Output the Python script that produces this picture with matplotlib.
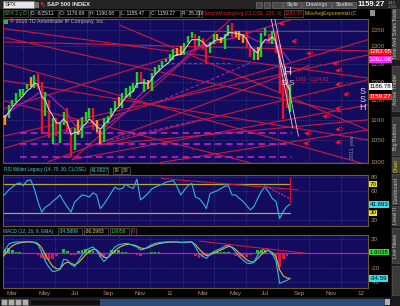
import matplotlib
matplotlib.use("Agg")
import matplotlib.pyplot as plt
from matplotlib.patches import Rectangle
from matplotlib.transforms import blended_transform_factory
from matplotlib.ticker import NullLocator, FixedLocator, FixedFormatter
import pandas as pd

plt.rcParams["font.family"] = ["Liberation Sans", "DejaVu Sans"]

W, H = 400, 306

# weekly SPX bars, Feb 2010 - Aug 2011
week_end = list(pd.date_range("2010-02-19", "2011-08-19", freq="W-FRI")) + [pd.Timestamp("2011-08-25")]
closes = [1109, 1104, 1138, 1150, 1160, 1167, 1178, 1194, 1192, 1217, 1187, 1111, 1136, 1087, 1089,
          1065, 1092, 1117, 1076, 1022, 1078, 1065, 1102, 1102, 1122, 1079, 1071, 1065, 1104, 1110,
          1125, 1149, 1146, 1165, 1176, 1183, 1183, 1225, 1199, 1199, 1189, 1224, 1240, 1244, 1256,
          1258, 1271, 1293, 1283, 1276, 1311, 1329, 1343, 1320, 1321, 1304, 1279, 1313, 1332, 1328,
          1320, 1338, 1364, 1340, 1338, 1333, 1331, 1300, 1271, 1271, 1268, 1340, 1344, 1316, 1345,
          1292, 1199, 1179, 1124, 1159]
highs = [1112, 1112, 1139, 1151, 1170, 1181, 1181, 1194, 1214, 1217, 1220, 1200, 1173, 1150, 1104,
         1105, 1092, 1120, 1131, 1080, 1079, 1099, 1106, 1120, 1130, 1129, 1100, 1075, 1105, 1110,
         1131, 1149, 1158, 1169, 1184, 1189, 1196, 1227, 1227, 1207, 1204, 1225, 1241, 1246, 1259,
         1263, 1278, 1293, 1296, 1302, 1311, 1331, 1344, 1339, 1332, 1325, 1305, 1314, 1337, 1339,
         1328, 1338, 1364, 1370, 1346, 1346, 1334, 1346, 1301, 1292, 1298, 1341, 1356, 1339, 1347,
         1345, 1307, 1208, 1208, 1191]
lows = [1075, 1086, 1105, 1134, 1146, 1159, 1165, 1181, 1186, 1183, 1181, 1066, 1110, 1056, 1041,
        1060, 1043, 1088, 1071, 1011, 1028, 1063, 1056, 1096, 1104, 1076, 1069, 1040, 1047, 1092,
        1110, 1123, 1136, 1131, 1159, 1159, 1171, 1184, 1194, 1173, 1180, 1174, 1222, 1232, 1241,
        1254, 1257, 1262, 1271, 1275, 1276, 1310, 1324, 1294, 1302, 1291, 1249, 1280, 1306, 1322,
        1309, 1294, 1331, 1329, 1329, 1318, 1311, 1297, 1268, 1262, 1262, 1270, 1332, 1309, 1306,
        1282, 1168, 1101, 1131, 1121]
rsi = [52, 56, 62, 66, 70, 72, 68, 75, 76, 63, 45, 31, 38, 41, 46, 50, 55, 46, 38, 31,
       45, 50, 55, 54, 52, 58, 55, 36, 42, 50, 58, 66, 63, 64, 70, 66, 64, 77, 48, 52,
       57, 63, 66, 68, 70, 73, 74, 75, 66, 55, 62, 68, 71, 52, 50, 44, 36, 57, 59, 61,
       64, 67, 68, 55, 55, 50, 46, 40, 34, 39, 50, 60, 66, 59, 50, 46, 22, 32, 39, 41.69]
macd = [-6.7, 5, 13, 15, 16, 16, 16, 16.5, 16, 15, 12, 2, -11, -19, -25, -24, -22, -8, -9, -15,
        -18, -10, -2, 4, 7, 9, 4, -4.5, -11, -6, 2.7, 9, 12, 13, 14, 13, 11, 9, 4.8, 6,
        9, 12, 14, 15, 15.5, 16, 16, 16, 16, 15, 15.5, 16, 16, 9, 0, -4, -6.7, -1, 2.7, 5,
        7, 10, 12, 8, 2, -4.5, -9, -13, -14, -12, -2, 4, 7, 5, -1, -10, -41, -39, -37, -34.59]

price_ticks = [1000, 1050, 1100, 1150, 1200, 1250, 1300, 1350]
rsi_ticks = [20, 60, 80]
macd_ticks = [20, -20, -40]
month_labels = ["Mar", "May", "Jul", "Sep", "Nov", "11", "Mar", "May", "Jul", "Sep", "Nov", "12"]
month_dates = pd.date_range("2010-03-01", periods=12, freq="2MS")
grid_dates = pd.date_range("2010-04-01", periods=11, freq="2MS")

# hand drawn trend lines on the price pane: (date, price) -> (date, price)
red_lines = [
    ("2010-02-16", 1028, "2012-01-20", 1320), ("2010-02-16", 1058, "2012-01-20", 1275),
    ("2010-02-16", 1125, "2011-08-25", 1381), ("2010-07-05", 1005, "2012-01-20", 1138),
    ("2010-08-26", 1039, "2012-01-20", 1205), ("2010-08-26", 1039, "2012-01-20", 1100),
    ("2010-07-05", 1005, "2011-05-02", 1381), ("2010-12-19", 998, "2012-01-20", 1075),
    ("2010-02-16", 1356, "2012-01-20", 1210), ("2010-02-16", 1314, "2012-01-20", 1287),
    ("2010-02-16", 1205, "2012-01-20", 1051), ("2010-02-16", 1255, "2012-01-20", 993),
    ("2010-02-16", 1381, "2012-01-20", 1397), ("2010-10-03", 1365, "2012-01-20", 1075),
    ("2011-03-05", 1347, "2012-01-20", 1347), ("2010-02-16", 1151, "2011-06-09", 998),
    ("2010-05-20", 1000, "2011-10-01", 1245), ("2010-02-16", 1330, "2011-12-01", 1120),
]
light_lines = [("2011-07-20", 1384, "2011-08-30", 1080), ("2011-07-27", 1384, "2011-09-10", 1060)]
support_levels = [1068, 1042, 1011]
magenta_diag = [("2010-12-19", 1148, "2011-06-09", 1252), ("2010-08-26", 1045, "2011-03-05", 1100),
                ("2010-12-19", 1252, "2011-05-02", 1252)]
# right side markers, in pane fractions
markers = [("◀1", 0.753, 0.972), ("◀2", 0.789, 0.847), ("◀3", 0.830, 0.764), ("◀4", 0.901, 0.694),
           ("◀A", 0.910, 0.646), ("◀B", 0.910, 0.549), ("◀F", 0.932, 0.478), ("◀C", 0.910, 0.382),
           ("◀5", 0.874, 0.326), ("◀D", 0.910, 0.236), ("◀6", 0.825, 0.208), ("◀E", 0.910, 0.146),
           ("◀7", 0.822, 0.139)]

NAVY = "#130b5e"
TAN = "#a8916a"
GRID = "#5858a0"
BORDER = "#6a5a30"
RED = "#cc1840"
FS = 3.6


def px_rect(x0, y0, x1, y1):
    return [x0 / W, 1 - y1 / H, (x1 - x0) / W, (y1 - y0) / H]


def style_pane(ax, ticks, labels, ylim):
    ax.set_facecolor(NAVY)
    ax.set_xlim(pd.Timestamp("2010-02-22"), pd.Timestamp("2012-01-21"))
    ax.set_ylim(*ylim)
    ax.yaxis.tick_right()
    ax.yaxis.set_major_locator(FixedLocator(ticks))
    ax.yaxis.set_major_formatter(FixedFormatter(labels))
    ax.yaxis.set_minor_locator(NullLocator())
    ax.tick_params(axis="y", length=0, pad=2, labelsize=4.6, labelcolor=TAN)
    ax.set_xticks([])
    for s in ax.spines.values():
        s.set_color(BORDER)
        s.set_linewidth(0.8)
    for t in ticks:
        ax.axhline(t, color=GRID, lw=0.5, ls=(0, (1, 2)), zorder=0)
    for d in grid_dates:
        ax.axvline(d, color=GRID, lw=0.5, ls=(0, (1, 2)), zorder=0)


def side_box(ax, y, text, fc, tc="black"):
    tr = blended_transform_factory(ax.transAxes, ax.transData)
    ax.text(1.004, y, text, transform=tr, fontsize=4.4, color=tc, va="center", ha="left",
            bbox=dict(boxstyle="square,pad=0.12", fc=fc, ec="none"), clip_on=False, zorder=10)


def boxed(ax, x0, x1, yc, lab, c):
    ax.add_patch(Rectangle((x0, yc - 3.5), x1 - x0, 7, fc="none", ec="#6a6a6a", lw=0.4))
    ax.text(x0 + 1, yc, lab, fontsize=FS, color=c, va="center", clip_on=True)


fig = plt.figure(figsize=(4, 3.06), dpi=100)
fig.patch.set_facecolor("#000000")

# ---- window chrome ----
ui = fig.add_axes([0, 0, 1, 1])
ui.set_xlim(0, W)
ui.set_ylim(H, 0)
ui.axis("off")
ui.add_patch(Rectangle((0, 0), W, 9, fc="#242424"))
ui.add_patch(Rectangle((3, 1), 31, 7, fc="#e6e6e6", ec="#808080", lw=0.4))
ui.text(5, 4.6, "SPX", fontsize=4.2, color="#202020", va="center")
ui.add_patch(Rectangle((35, 1.5), 4, 6, fc="#707070"))
ui.add_patch(Rectangle((41, 2), 2, 2.5, fc="#d02020"))
ui.add_patch(Rectangle((43, 4.5), 2, 2.5, fc="#2040d0"))
ui.text(47, 4.6, "S&P 500 INDEX", fontsize=4.2, color="#e8e8e8", va="center", weight="bold")
for x0, w, lab in [(256, 6, ""), (264, 6, ""), (272, 10, ""), (283, 18, "Style"),
                   (302, 29, "Drawings"), (332, 24, "Studies")]:
    ui.add_patch(Rectangle((x0, 1.5), w, 6, fc="#4a4a4a", ec="#7a7a7a", lw=0.4))
    if lab:
        ui.text(x0 + 4, 4.6, lab, fontsize=3.8, color="#e0e0e0", va="center")
ui.text(358, 4.6, "1159.27", fontsize=5.5, color="white", va="center", weight="bold")
ui.text(388, 2.8, "-18.5", fontsize=2.6, color="#b0b0b0", va="center")
ui.text(388, 6.6, "-1.5%", fontsize=2.6, color="#b0b0b0", va="center")

info = [(3, 28, "SPX 2 y D", "#30d040"), (30, 58, "D: 8/25/11", "#d8d8d8"),
        (59, 88, "O: 1176.69", "#d8d8d8"), (89, 119, "H: 1190.68", "#d8d8d8"),
        (120, 149, "L: 1155.47", "#d8d8d8"), (150, 180, "C: 1159.27", "#d8d8d8"),
        (181, 198, "R: 35.21", "#d8d8d8"), (199, 202, "Y:", "#d8d8d8")]
for x0, x1, lab, c in info:
    boxed(ui, x0, x1, 13.6, lab, c)
ui.text(203, 13.6, "SimpleMovingAvg (CLOSE, 200, 0)", fontsize=FS, color="#e02030", va="center")
boxed(ui, 284, 303, 13.6, "1283.95", "#e02030")
ui.text(305, 13.6, "MovAvgExponential (C", fontsize=FS, color="#e0b030", va="center")
ui.add_patch(Rectangle((370, 10), 5, 6, fc="#909090"))

# right tabs
ui.add_patch(Rectangle((391, 9), 9, 288, fc="#1c1c1c"))
tabs = [(9, 19, "Trade"), (20, 60, "Time And Sales"), (66, 112, "Active Trader"),
        (117, 156, "Big Buttons"), (157, 173, "Chart"), (174, 205, "Dashboard"),
        (206, 226, "Level II"), (228, 264, "Live News"), (266, 296, "")]
for y0, y1, lab in tabs:
    active = lab == "Chart"
    ui.add_patch(Rectangle((391.5, y0), 8, y1 - y0 - 1, fc="#3a3a3a" if not active else "#4a4a30",
                           ec="#606060", lw=0.4))
    ui.text(395.8, (y0 + y1) / 2, lab, fontsize=3.8, rotation=90, ha="center", va="center",
            color="#e8d040" if active else "#c8c8c8")

# headers of lower panes
ui.add_patch(Rectangle((0, 164), 368, 11, fc="#050505"))
ui.text(4, 170, "RSI Wilder Legacy (14, 70, 30, CLOSE)", fontsize=3.3, color="#40c8e8", va="center")
for x0, x1, lab, c in [(90, 108, "41.6927", "#40c8e8"), (113, 121, "70", "#e0d040"),
                       (122, 130, "30", "#e0d040")]:
    boxed(ui, x0, x1, 170, lab, c)
ui.add_patch(Rectangle((0, 226), 368, 9, fc="#050505"))
ui.text(3, 231.5, "MACD (12, 26, 9, EMA)", fontsize=3.4, color="#40c8e8", va="center")
for x0, x1, lab, c in [(58, 82, "-34.5898", "#40c8e8"), (84, 108, "-36.2983", "#e0d040"),
                       (110, 129, "1.9058", "#30d040"), (131, 136, "0", "#d020d0")]:
    boxed(ui, x0, x1, 231.5, lab, c)

# bottom scroller
ui.add_patch(Rectangle((0, 297), W, 9, fc="#1a1a1a"))
for i in range(4):
    ui.add_patch(Rectangle((1 + i * 7, 298.5), 6, 6, fc="#b0b0b0", ec="#505050", lw=0.4))
ui.add_patch(Rectangle((30, 298.5), 70, 6, fc="#101010", ec="#404040", lw=0.4))
ui.add_patch(Rectangle((100, 298.5), 284, 6, fc="#2a4a78", ec="#406090", lw=0.4))
ui.add_patch(Rectangle((385, 298.5), 5, 6, fc="#b0b0b0"))

# ---- price pane ----
ax = fig.add_axes(px_rect(3, 19, 368, 163))
ax.set_yscale("log")
style_pane(ax, price_ticks, [str(t) for t in price_ticks], (997, 1384))

for d1, p1, d2, p2 in red_lines:
    ax.plot([pd.Timestamp(d1), pd.Timestamp(d2)], [p1, p2], color=RED, lw=0.8, zorder=2)
for d1, p1, d2, p2 in magenta_diag:
    ax.plot([pd.Timestamp(d1), pd.Timestamp(d2)], [p1, p2], color="#a020c0", lw=0.8,
            ls=(0, (3, 2)), zorder=2)
for lvl in support_levels:
    ax.plot([pd.Timestamp("2010-03-27"), pd.Timestamp("2011-08-29")], [lvl, lvl],
            color="#c020c8", lw=1.2, ls=(0, (4, 2.5)), zorder=2)

s = pd.Series(closes, index=week_end)
fast = s.ewm(span=4, adjust=False).mean()
slow = s.rolling(10, min_periods=1).mean()
ax.plot(slow.index, slow.values, color="#9a1eb0", lw=0.9, zorder=3)

chg = s.diff().fillna(0)
bar_cols = ["#22d022" if c >= 0 else ("#ff8c10" if c > -15 else "#e8142a") for c in chg]
ax.vlines(week_end, lows, highs, colors=bar_cols, lw=1.7, zorder=4)
ax.plot(fast.index, fast.values, color="#d0d0dc", lw=0.8, zorder=5)

for d1, p1, d2, p2 in light_lines:
    ax.plot([pd.Timestamp(d1), pd.Timestamp(d2)], [p1, p2], color="#e8c8d0", lw=0.6, zorder=5)

ax.add_patch(Rectangle((0.003, 0.968), 0.012, 0.028, transform=ax.transAxes, fc="#40b040", zorder=6))
ax.text(0.019, 0.982, "© 2010 TD Ameritrade IP Company, Inc.", transform=ax.transAxes,
        fontsize=3.8, color="#b8b8b8", va="center", zorder=6)
for lab, fx, fy in markers:
    ax.text(fx, fy, lab, transform=ax.transAxes, fontsize=4.4, color="#ff1030", va="center", zorder=6)
ax.text(0.778, 0.63, "H", transform=ax.transAxes, fontsize=8, color="#f0c8d8", ha="center", va="center", zorder=6)
ax.text(0.768, 0.55, "S", transform=ax.transAxes, fontsize=6, color="#f0c8d8", ha="center", va="center", zorder=6)
ax.text(0.790, 0.55, "S", transform=ax.transAxes, fontsize=6, color="#f0c8d8", ha="center", va="center", zorder=6)
ax.text(0.800, 0.583, "1306 - 1134.92", transform=ax.transAxes, fontsize=3.6, color="#ff1030",
        va="center", zorder=6)
for lab, fy in [("S", 0.50), ("S", 0.444), ("H", 0.385)]:
    ax.text(0.984, fy, lab, transform=ax.transAxes, fontsize=6.5, color="#e8d0dc", ha="center",
            va="center", zorder=6)
ax.text(0.958, 0.11, "2011 year", transform=ax.transAxes, fontsize=4, color="#8c8ca8",
        rotation=90, ha="center", va="center", zorder=6)

side_box(ax, 1283.95, "1283.95", "#ff1010", "white")
side_box(ax, 1262.08, "1262.08", "#ff20ff", "white")
side_box(ax, 1186.78, "1186.78", "#f4f4f4", "black")
side_box(ax, 1159.27, "1159.27", "#ff1a1a", "white")

# ---- RSI pane ----
ar = fig.add_axes(px_rect(3, 175, 368, 226))
style_pane(ar, rsi_ticks, [str(t) for t in rsi_ticks], (11.6, 82.8))
last = pd.Timestamp("2011-08-25")
for lvl in (70, 30):
    ar.plot([pd.Timestamp("2010-02-19"), last], [lvl, lvl], color="#b8a838", lw=0.9, zorder=2)
ar.plot(week_end, rsi, color="#30b8d8", lw=0.8, zorder=3)
ar.plot([pd.Timestamp("2010-12-22"), pd.Timestamp("2011-09-10")], [78, 62], color=RED, lw=0.8, zorder=4)
ar.plot([pd.Timestamp("2011-07-05"), last], [69, 49.6], color="#d020d0", lw=0.8, ls=(0, (2, 1)), zorder=4)
ar.plot([last, last], [78, 45], color="#e01030", lw=0.8, zorder=4)
side_box(ar, 70, "70", "#e8e030")
side_box(ar, 41.69, "41.693", "#30e0f0")
side_box(ar, 30, "30", "#e8e030")

# ---- MACD pane ----
am = fig.add_axes(px_rect(3, 235, 368, 288))
style_pane(am, macd_ticks, [str(t) for t in macd_ticks], (-47.6, 25.5))
m = pd.Series(macd, index=week_end)
sig = m.ewm(span=3, adjust=False).mean()
diff = m - sig
am.bar(week_end, diff.values, width=5, color=["#28c028" if v >= 0 else "#d81848" for v in diff],
       zorder=2)
am.axhline(0, color="#d010d0", lw=0.9, zorder=3)
am.plot(sig.index, sig.values, color="#e0b830", lw=0.8, zorder=4)
am.plot(m.index, m.values, color="#28c0e0", lw=0.8, zorder=5)
am.plot([pd.Timestamp("2011-03-05"), pd.Timestamp("2011-09-25")], [17, 0.3], color=RED, lw=0.8, zorder=6)
side_box(am, 1.9058, "1.9038", "#30e030")
side_box(am, -34.59, "-34.59", "#30e0f0")

am.set_xticks(month_dates)
am.set_xticklabels(month_labels)
am.tick_params(axis="x", length=0, pad=2.5, labelsize=4.6, labelcolor=TAN)
for lbl in am.get_xticklabels():
    lbl.set_horizontalalignment("left")

fig.savefig("out.png", dpi=100, facecolor=fig.get_facecolor())
